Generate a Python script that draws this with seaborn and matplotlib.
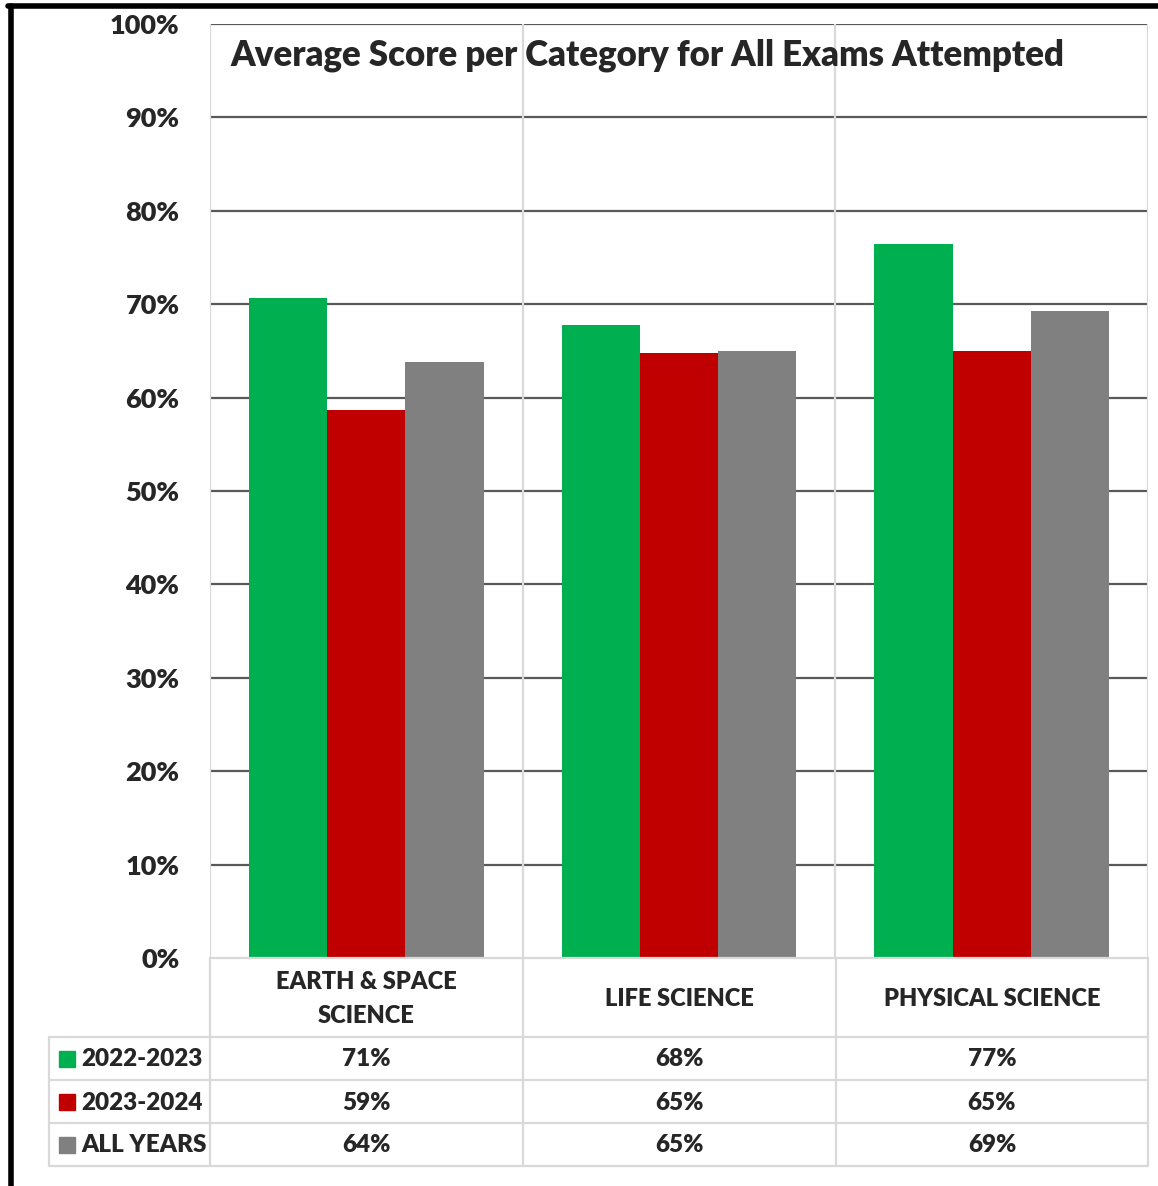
import pandas as pd
import seaborn as sns
import matplotlib.pyplot as plt
from matplotlib.lines import Line2D
from matplotlib.patches import Rectangle
from matplotlib.ticker import PercentFormatter

# Дані
categories = ['EARTH & SPACE SCIENCE', 'LIFE SCIENCE', 'PHYSICAL SCIENCE']
category_labels = ['EARTH & SPACE\nSCIENCE', 'LIFE SCIENCE', 'PHYSICAL SCIENCE']
series = ['2022-2023', '2023-2024', 'ALL YEARS']
scores_2022 = [0.707, 0.678, 0.764]
scores_2023 = [0.587, 0.648, 0.650]
scores_all = [0.638, 0.650, 0.693]
table_text = [['71%', '68%', '77%'], ['59%', '65%', '65%'], ['64%', '65%', '69%']]
colors = ['#00B050', '#C00000', '#808080']

df = pd.DataFrame({
    'category': categories * 3,
    'series': [s for s in series for _ in categories],
    'score': scores_2022 + scores_2023 + scores_all,
})

sns.set_style('white')
plt.rcParams['font.family'] = ['Lato', 'DejaVu Sans']
WEIGHT = 'heavy'

W, H = 1158, 1186
fig = plt.figure(figsize=(W / 100, H / 100), dpi=100)


def fx(x):
    return x / W


def fy(y):
    return 1 - y / H


left, right, top, bottom = 210, 1148, 24, 958
ax = fig.add_axes([fx(left), fy(bottom), fx(right - left), (bottom - top) / H])

sns.barplot(data=df, x='category', y='score', hue='series', palette=colors,
            width=0.75, saturation=1, edgecolor='none', ax=ax, legend=False)

ax.set_xlim(-0.5, 2.5)
ax.set_ylim(0, 1)
ax.set_yticks([i / 10 for i in range(11)])
ax.yaxis.set_major_formatter(PercentFormatter(1.0, decimals=0))
ax.tick_params(axis='y', length=0, pad=22, labelsize=19.5)
for lbl in ax.get_yticklabels():
    lbl.set_fontweight(WEIGHT)
ax.set_xticks([])
ax.set_xlabel('')
ax.set_ylabel('')
for s in ax.spines.values():
    s.set_visible(False)
for i in range(1, 11):
    ax.axhline(i / 10, color='#595959', lw=1.6, zorder=0)
for x in [-0.5, 0.5, 1.5, 2.5]:
    ax.axvline(x, color='#d9d9d9', lw=1.6, zorder=0)

ax.text(0.466, 0.967, 'Average Score per Category for All Exams Attempted',
        transform=ax.transAxes, ha='center', va='center', fontsize=25, fontweight=WEIGHT)

# Таблиця даних
grid = '#d9d9d9'
col_x = [210, 523, 836, 1148]
row_y = [958, 1037, 1080, 1123, 1166]


def line(x0, y0, x1, y1, color=grid, lw=1.6):
    fig.add_artist(Line2D([fx(x0), fx(x1)], [fy(y0), fy(y1)], color=color, lw=lw))


line(210, 958, 1148, 958)
for y in row_y[1:]:
    line(49, y, 1148, y)
for x in col_x:
    line(x, 958, x, 1166)
line(49, 1037, 49, 1166)

for j, lbl in enumerate(category_labels):
    cx = (col_x[j] + col_x[j + 1]) / 2
    fig.text(fx(cx), fy(999), lbl, ha='center', va='center', fontsize=17,
             fontweight=WEIGHT, linespacing=1.65)

for i, name in enumerate(series):
    cy = (row_y[i + 1] + row_y[i + 2]) / 2
    fig.add_artist(Rectangle((fx(59), fy(cy + 8)), 16 / W, 16 / H, color=colors[i],
                             transform=fig.transFigure))
    fig.text(fx(81), fy(cy + 1), name, ha='left', va='center', fontsize=17.5, fontweight=WEIGHT)
    for j in range(3):
        cx = (col_x[j] + col_x[j + 1]) / 2
        fig.text(fx(cx), fy(cy + 1), table_text[i][j], ha='center', va='center',
                 fontsize=17.5, fontweight=WEIGHT)

# Рамка
line(11, 5.5, 11, H, color='black', lw=4)
line(8, 5.5, W, 5.5, color='black', lw=4)

fig.savefig('out.png', dpi=100)
